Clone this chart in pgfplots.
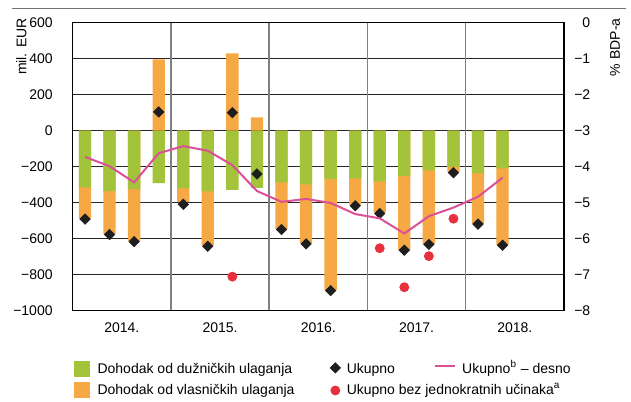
\documentclass[border=0pt]{standalone}
\usepackage{fontspec}
\setmainfont{Liberation Sans}
\usepackage{pgfplots}
\pgfplotsset{compat=1.18}
\usepackage{pgfplotstable}

\definecolor{dugreen}{HTML}{A3C43A}
\definecolor{vlorange}{HTML}{F5A843}
\definecolor{ukpink}{HTML}{DB5096}
\definecolor{ukred}{HTML}{E8303C}
\definecolor{ukblack}{HTML}{1E1E1E}

% quarters 2014Q1 ... 2018Q2, mil. EUR
\pgfplotstableread{
x   dug   vla   uk
0   -315  -175  -492
1   -336  -238  -578
2   -325  -290  -617
3   -292   396   104
4   -321   -76  -410
5   -338  -300  -643
6   -329   429   100
7   -318    74  -241
8   -288  -258  -550
9   -299  -326  -630
10  -268  -618  -890
11  -266  -145  -418
12  -282  -172  -461
13  -253  -410  -665
14  -221  -409  -633
15  -201   -30  -234
16  -236  -282  -520
17  -210  -425  -637
}\prihodi

\pgfplotstableread{
x   bez
6   -812
12  -654
13  -871
14  -698
15  -490
}\bezjed

% % BDP-a, right axis
\pgfplotstableread{
x   pct
0   -3.73
1   -3.99
2   -4.44
3   -3.63
4   -3.43
5   -3.56
6   -3.96
7   -4.68
8   -4.98
9   -4.90
10  -5.01
11  -5.32
12  -5.44
13  -5.86
14  -5.38
15  -5.14
16  -4.84
17  -4.31
}\udio

\begin{document}
\begin{tikzpicture}[font=\fontsize{7pt}{8.4pt}\selectfont]
\begin{axis}[
  scale only axis, width=245.5pt, height=143.8pt,
  xmin=-0.5, xmax=19.5, ymin=-1000, ymax=600,
  ytick={-1000,-800,...,600},
  yticklabels={−1000,−800,−600,−400,−200,0,200,400,600},
  xtick={1.5,5.5,9.5,13.5,17.5},
  xticklabels={2014.,2015.,2016.,2017.,2018.},
  extra x ticks={3.5,7.5,11.5,15.5},
  extra x tick labels={},
  extra x tick style={grid=major, major grid style={black!50, line width=0.75pt}},
  ymajorgrids,
  major grid style={black!85, line width=0.5pt},
  major tick length=0pt,
  axis line style={black, line width=0.6pt},
  yticklabel style={anchor=east, inner sep=0pt, xshift=-9.85pt},
  xticklabel style={anchor=base, inner sep=0pt, yshift=-11pt},
  clip=false,
  legend columns=3,
  legend cell align=left,
  legend style={draw=none, fill=none, inner sep=0pt, outer sep=0pt,
    at={(0,0)}, anchor=north west, xshift=0.65pt, yshift=-25.2pt,
    row sep=2pt, column sep=0pt,
    nodes={inner sep=0pt, text height=6pt, text depth=2pt},
    cells={anchor=west}},
]
\addplot[ybar, bar width=6.15pt, bar shift=0pt, fill=vlorange, draw=none, forget plot]
  table[x=x, y expr={ifthenelse(\thisrow{vla}<0, \thisrow{dug}+\thisrow{vla}, \thisrow{vla})}] {\prihodi};
\addplot[ybar, bar width=6.15pt, bar shift=0pt, fill=dugreen, draw=none, forget plot]
  table[x=x, y=dug] {\prihodi};
\addplot[only marks, mark=square*, mark size=1.8pt,
  mark options={rotate=45, fill=ukblack, draw=ukblack}, forget plot]
  table[x=x, y=uk] {\prihodi};
\addplot[only marks, mark=*, mark size=2.25pt,
  mark options={fill=ukred, draw=ukred}, forget plot]
  table[x=x, y=bez] {\bezjed};

\addlegendimage{legend image code/.code={\fill[dugreen] (0pt,-3.5pt) rectangle (7.5pt,4.3pt); \path (0pt,0pt) (11.35pt,0pt);}}
\addlegendentry{\makebox[115.15pt][l]{Dohodak od dužničkih ulaganja}}
\addlegendimage{legend image code/.code={\fill[ukblack] (3.5pt,-1.5pt) -- (6pt,1pt) -- (3.5pt,3.5pt) -- (1pt,1pt) -- cycle; \path (0pt,0pt) (9pt,0pt);}}
\addlegendentry{\makebox[43.5pt][l]{Ukupno}}
\addlegendimage{legend image code/.code={\draw[ukpink, line width=1pt] (0pt,1.85pt) -- (10pt,1.85pt); \path (0pt,0pt) (13.5pt,0pt);}}
\addlegendentry{Ukupno\textsuperscript{b} – desno}
\addlegendimage{legend image code/.code={\fill[vlorange] (0pt,-3.5pt) rectangle (7.5pt,4.3pt); \path (0pt,0pt) (11.35pt,0pt);}}
\addlegendentry{\makebox[115.15pt][l]{Dohodak od vlasničkih ulaganja}}
\addlegendimage{legend image code/.code={\fill[ukred] (3.5pt,0.2pt) circle (2.25pt); \path (0pt,0pt) (9pt,0pt);}}
\addlegendentry{\makebox[43.5pt][l]{Ukupno bez jednokratnih učinaka\textsuperscript{a}}}

\node[rotate=90, anchor=east, inner sep=0pt] at ([xshift=-25.7pt, yshift=2.35pt]rel axis cs:0,1) {mil. EUR};
\draw[black!55, line width=0.75pt] ([xshift=-30.35pt, yshift=7.2pt]rel axis cs:0,1) -- ([xshift=31pt, yshift=7.2pt]rel axis cs:1,1);
\path ([xshift=-36.35pt, yshift=-45.35pt]rel axis cs:0,0) rectangle ([xshift=33.5pt, yshift=11.35pt]rel axis cs:1,1);
\end{axis}

\begin{axis}[
  scale only axis, width=245.5pt, height=143.8pt,
  xmin=-0.5, xmax=19.5, ymin=-8, ymax=0,
  axis x line=none, axis y line*=right,
  axis line style={draw=none},
  ytick={-8,-7,...,0},
  yticklabels={−8,−7,−6,−5,−4,−3,−2,−1,0},
  major tick length=0pt,
  yticklabel style={anchor=east, inner sep=0pt, xshift=13.35pt},
  clip=false,
]
\addplot[ukpink, line width=1pt, no markers] table[x=x, y=pct] {\udio};
\node[rotate=90, anchor=east, inner sep=0pt] at ([xshift=25.5pt, yshift=2.35pt]rel axis cs:1,1) {\% BDP-a};
\end{axis}
\end{tikzpicture}
\end{document}
